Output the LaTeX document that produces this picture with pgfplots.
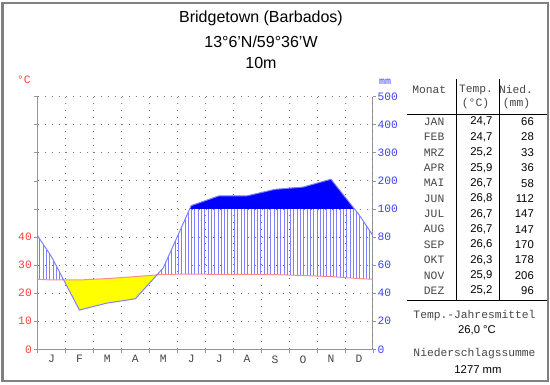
\documentclass[border=0pt]{standalone}
\usepackage{fontspec}
\setmainfont{Liberation Sans}
\newfontfamily\mono{Liberation Mono}
\usepackage{pgfplots}
\pgfplotsset{compat=1.18}
\usepackage{pgfplotstable}
\usetikzlibrary{patterns.meta}
\definecolor{tred}{RGB}{255,64,64}
\definecolor{tblue}{RGB}{64,64,255}
\definecolor{templine}{RGB}{255,140,140}
\definecolor{precline}{RGB}{128,128,255}
\definecolor{hatchc}{RGB}{128,128,255}
\definecolor{solidblue}{RGB}{0,0,255}
\definecolor{yel}{RGB}{255,255,0}
\definecolor{axgray}{RGB}{150,150,150}
\definecolor{gridc}{RGB}{120,120,120}
\definecolor{txtgray}{RGB}{70,70,70}
\definecolor{bordc}{RGB}{128,128,128}

% x = month position (centres at .5), T = temperature (deg C), P = precipitation (mm)
\pgfplotstableread{
x     T      P
0     24.95  81
0.5   24.7   66
1.5   24.7   28
2.5   25.2   33
3.5   25.9   36
4.5   26.7   58
5.5   26.8   112
6.5   26.7   147
7.5   26.7   147
8.5   26.6   170
9.5   26.3   178
10.5  25.9   206
11.5  25.2   96
12    24.95  81
}\climate

\newcommand{\monosz}{\mono\fontsize{11.3bp}{13bp}\selectfont}
\newcommand{\sanssz}{\fontsize{11.3bp}{13bp}\selectfont}

\begin{document}
\begin{tikzpicture}[x=1bp,y=1bp]
\useasboundingbox (0,0) rectangle (550,384);
\fill[white] (0,0) rectangle (550,384);

% right axis (mm)
\begin{axis}[
  at={(37.5bp,34.7bp)}, anchor=south west, scale only axis,
  width=335.4bp, height=252.6bp,
  xmin=0, xmax=12, ymin=0, ymax=90,
  axis x line=none, axis y line*=right,
  ytick={0,10,...,90},
  yticklabels={0,20,40,60,80,100,200,300,400,500},
  yticklabel style={font=\monosz, text=tblue, inner sep=1.5bp},
  axis line style={axgray, line width=1bp},
  tick style={axgray, line width=0.8bp}, tick align=outside, major tick length=3bp,
]
\end{axis}

% main axis
\begin{axis}[
  at={(37.5bp,34.7bp)}, anchor=south west, scale only axis,
  width=335.4bp, height=252.6bp,
  xmin=0, xmax=12, ymin=0, ymax=90,
  axis x line*=bottom, axis y line*=left,
  xtick={0,...,12},
  xticklabels={J,F,M,A,M,J,J,A,S,O,N,D},
  x tick label as interval,
  xticklabel style={font=\monosz, text=txtgray, inner sep=2bp},
  ytick={0,10,...,90},
  yticklabels={0,10,20,30,40,,,,,},
  yticklabel style={font=\monosz, text=tred, inner sep=1.5bp},
  grid=major,
  grid style={gridc, dash pattern=on 0.9bp off 6.1bp, line width=0.9bp},
  axis line style={axgray, line width=1bp},
  tick style={axgray, line width=0.8bp}, tick align=outside, major tick length=4bp,
]
% humid (hatched) parts
\addplot[draw=none, pattern={Lines[angle=90,distance=3.3bp,line width=0.6bp]}, pattern color=hatchc]
  coordinates {(0,24.95) (0,40.5) (0.5,33) (0.937,24.7) (0.5,24.7)} --cycle;
\addplot[draw=none, pattern={Lines[angle=90,distance=3.3bp,line width=0.6bp]}, pattern color=hatchc]
  coordinates {(4.2745,26.52) (4.5,29) (5.446,50) (11.341,50) (11.5,48) (12,40.5)
               (12,24.95) (11.5,25.2) (10.5,25.9) (9.5,26.3) (8.5,26.6) (7.5,26.7)
               (6.5,26.7) (5.5,26.8) (4.5,26.7)} --cycle;
% arid part
\addplot[draw=none, fill=yel]
  coordinates {(0.937,24.7) (1.5,24.7) (2.5,25.2) (3.5,25.9) (4.2745,26.52)
               (3.5,18) (2.5,16.5) (1.5,14)} --cycle;
% perhumid (>100 mm)
\addplot[draw=none, fill=solidblue]
  coordinates {(5.446,50) (5.5,51.2) (6.5,54.7) (7.5,54.7) (8.5,57)
               (9.5,57.8) (10.5,60.6) (11.341,50)} --cycle;
% temperature
\addplot[templine, line width=1bp] table[x=x, y=T] {\climate};
% precipitation (scaled: 20 mm = 10 C up to 100 mm, then 100 mm = 10 C)
\addplot[precline, line width=1bp] table[x=x,
  y expr={\thisrow{P}>100 ? 50+(\thisrow{P}-100)/10 : \thisrow{P}/2}] {\climate};
\end{axis}

% axis unit labels
\node[font=\monosz, text=tred] at (24,304) {°C};
\node[font=\mono\fontsize{10bp}{12bp}\selectfont, text=tblue] at (385,302) {mm};

% title
\node[font=\fontsize{16bp}{18bp}\selectfont] at (261,365.7) {Bridgetown (Barbados)};
\node[font=\fontsize{16bp}{18bp}\selectfont] at (261,342.3) {13°6'N/59°36'W};
\node[font=\fontsize{16bp}{18bp}\selectfont] at (261,320.7) {10m};

% table
\draw[black, line width=0.8bp] (456,305) -- (456,83.3);
\draw[black, line width=0.8bp] (499.5,305) -- (499.5,83.3);
\draw[black, line width=0.8bp] (407,269.7) -- (547,269.7);
\draw[black, line width=0.8bp] (407,83.3) -- (547,83.3);
\node[font=\monosz, text=txtgray] at (429.2,294.5) {Monat};
\node[font=\monosz, text=txtgray] at (476,294.5) {Temp.};
\node[font=\monosz, text=txtgray] at (516,294.5) {Nied.};
\node[font=\monosz, text=txtgray] at (475.5,280.5) {(°C)};
\node[font=\monosz, text=txtgray] at (516.5,280.5) {(mm)};
\foreach \m/\t/\p [count=\i from 0] in {JAN/{24,7}/66, FEB/{24,7}/28, MRZ/{25,2}/33,
    APR/{25,9}/36, MAI/{26,7}/58, JUN/{26,8}/112, JUL/{26,7}/147, AUG/{26,7}/147,
    SEP/{26,6}/170, OKT/{26,3}/178, NOV/{25,9}/206, DEZ/{25,2}/96} {
  \pgfmathsetmacro\yy{262.3-15.36*\i}
  \node[font=\monosz, text=txtgray, anchor=east, inner sep=0pt] at (444.5,\yy) {\m};
  \node[font=\sanssz, anchor=east, inner sep=0pt] at (492.5,\yy) {\t};
  \node[font=\sanssz, anchor=east, inner sep=0pt] at (534,\yy) {\p};
}
\node[font=\monosz, text=txtgray] at (474.5,68) {Temp.-Jahresmittel};
\node[font=\sanssz] at (477,54) {26,0 °C};
\node[font=\monosz, text=txtgray] at (474.5,30.7) {Niederschlagssumme};
\node[font=\sanssz] at (478,14) {1277 mm};

% frame
\draw[bordc, line width=2bp] (2.5,3.5) rectangle (547.5,381);
\end{tikzpicture}
\end{document}
